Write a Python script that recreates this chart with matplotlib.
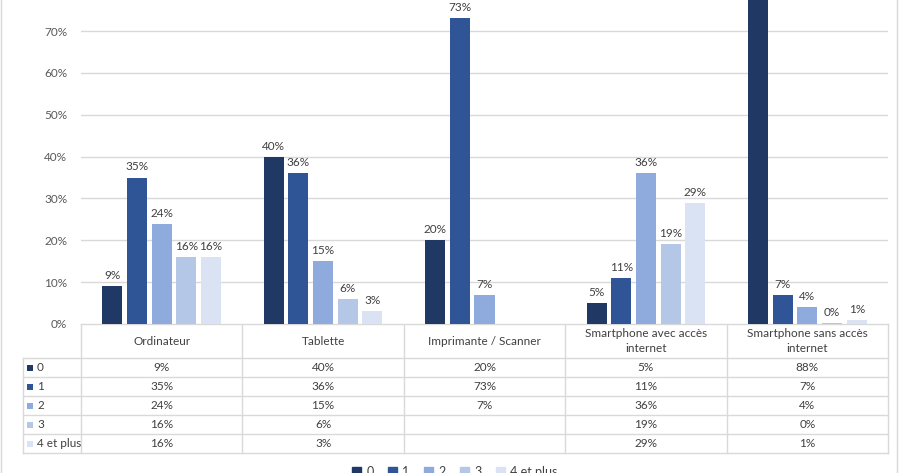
import matplotlib.pyplot as plt
import numpy as np

categories = ["Ordinateur", "Tablette", "Imprimante / Scanner",
              "Smartphone avec accès\ninternet", "Smartphone sans accès\ninternet"]
series = ["0", "1", "2", "3", "4 et plus"]
values = {
    "0": [0.09, 0.40, 0.20, 0.05, 0.88],
    "1": [0.35, 0.36, 0.73, 0.11, 0.07],
    "2": [0.24, 0.15, 0.07, 0.36, 0.04],
    "3": [0.16, 0.06, np.nan, 0.19, 0.003],
    "4 et plus": [0.16, 0.03, np.nan, 0.29, 0.01],
}
colors = ["#1f3864", "#2f5597", "#8faadc", "#b4c7e7", "#dae3f3"]
yticks = [0, 0.1, 0.2, 0.3, 0.4, 0.5, 0.6, 0.7]

plt.rcParams["font.family"] = ["Lato", "DejaVu Sans"]
W, H = 902, 473
fig = plt.figure(figsize=(W / 100, H / 100), dpi=100)

# plot area in pixels
x0, x1, y0 = 81, 888, 324
px_per_10 = (324 - 31) / 7
ax = fig.add_axes([x0 / W, (H - y0) / H, (x1 - x0) / W, y0 / H])
ax.set_xlim(-0.5, len(categories) - 0.5)
ax.set_ylim(0, 0.1 * y0 / px_per_10)

grid_c = "#d9d9d9"
txt_c = "#404040"
n = len(series)
step = 0.153
bw = 0.124
x = np.arange(len(categories))
for i, s in enumerate(series):
    v = np.array(values[s], dtype=float)
    pos = x + (i - (n - 1) / 2) * step
    ax.bar(pos, np.nan_to_num(v), width=bw, color=colors[i], zorder=3)
    for p, val in zip(pos, v):
        if np.isnan(val):
            continue
        ax.text(p, val + 0.012, f"{val:.0%}", ha="center", va="bottom",
                fontsize=8.5, color=txt_c, zorder=4, clip_on=True)

ax.set_yticks(yticks)
ax.set_yticklabels([f"{t:.0%}" for t in yticks], fontsize=8.5, color="#595959")
ax.grid(axis="y", color=grid_c, lw=1, zorder=0)
ax.set_xticks([])
ax.tick_params(axis="y", length=0, pad=10)
for sp in ax.spines.values():
    sp.set_visible(False)

# data table below the plot, drawn in pixel coordinates
ov = fig.add_axes([0, 0, 1, 1], zorder=-1)
ov.set_xlim(0, W)
ov.set_ylim(H, 0)
ov.axis("off")
ov.patch.set_alpha(0)

col_edges = np.linspace(x0, x1, len(categories) + 1)
row_edges = [324, 358, 377, 396, 415, 434, 453]
lab_x = 23
ov.plot([x0, x1], [row_edges[0]] * 2, color=grid_c, lw=1)
for y in row_edges[1:]:
    ov.plot([lab_x, x1], [y, y], color=grid_c, lw=1)
for cx in col_edges:
    ov.plot([cx, cx], [row_edges[0], row_edges[-1]], color=grid_c, lw=1)
ov.plot([lab_x, lab_x], [row_edges[1], row_edges[-1]], color=grid_c, lw=1)

for j, c in enumerate(categories):
    cx = (col_edges[j] + col_edges[j + 1]) / 2
    ov.text(cx, (row_edges[0] + row_edges[1]) / 2, c, ha="center", va="center",
            fontsize=8.5, color=txt_c, linespacing=1.45)

for i, s in enumerate(series):
    cy = (row_edges[i + 1] + row_edges[i + 2]) / 2
    ov.scatter([30], [cy], marker="s", s=22, color=colors[i], lw=0)
    ov.text(37, cy, s, ha="left", va="center", fontsize=8.5, color=txt_c)
    for j, val in enumerate(values[s]):
        if np.isnan(val):
            continue
        cx = (col_edges[j] + col_edges[j + 1]) / 2
        ov.text(cx, cy, f"{val:.0%}", ha="center", va="center",
                fontsize=8.5, color=txt_c)

# outer chart border
ov.plot([1, 1], [0, H], color=grid_c, lw=1)
ov.plot([897, 897], [0, H], color=grid_c, lw=1)

# legend (cut at bottom as in the original)
handles = [plt.Rectangle((0, 0), 1, 1, color=c) for c in colors]
fig.legend(handles, series, loc="center", bbox_to_anchor=(455 / W, 1.5 / H),
           ncol=5, frameon=False, fontsize=9, handlelength=0.7, handleheight=0.7,
           handletextpad=0.4, columnspacing=1.2, labelcolor=txt_c)

fig.savefig("out.png", dpi=100)
